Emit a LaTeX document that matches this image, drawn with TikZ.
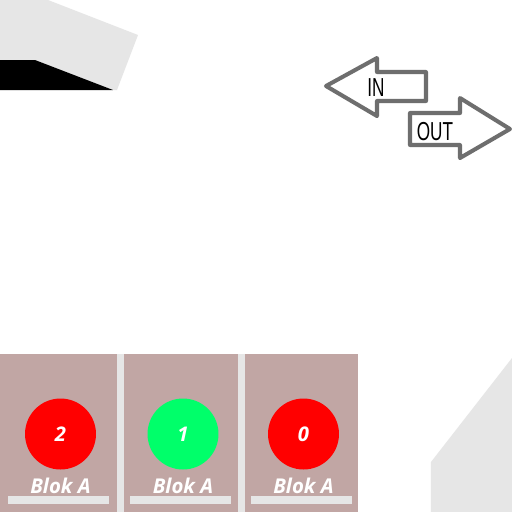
\documentclass[tikz,border=0pt]{standalone}
\usepackage{fontspec}
\setsansfont{Liberation Sans}
\newfontfamily\blokfont{Open Sans}
\usetikzlibrary{positioning,calc}
\definecolor{panel}{RGB}{193,166,164}
\definecolor{paleshade}{RGB}{230,230,230}
\definecolor{lampgreen}{RGB}{0,255,106}
\definecolor{lampred}{RGB}{255,0,0}
\definecolor{arrowgray}{RGB}{110,110,110}
\newcommand \myblok[4]
{
\fill[panel] (#1,354) rectangle (#2,512);
\node[lamp,fill=#4] (lamp#3) at ($(#1,434)!0.5!(#2,434)+(2,0)$) {#3};
\node[bloktext] (blok#3) at ($(#1,486)!0.5!(#2,486)+(2,0)$) {Blok A};
\fill[paleshade] ($(#1,496)!0.5!(#2,496)+(-50.5,0)$) rectangle ++(101,8);
}
\begin{document}
\begin{tikzpicture}[x=0.02cm, y=-0.02cm, line join=round,
  lamp/.style={circle, minimum size=1.42cm, inner sep=0pt, text=white,
    font=\blokfont\bfseries\itshape\fontsize{11.5}{12}\selectfont},
  bloktext/.style={inner sep=0pt, text=white,
    font=\blokfont\bfseries\itshape\fontsize{11.6}{12}\selectfont},
  arrowline/.style={draw=arrowgray, line width=2.3pt, fill=white},
  arrowtext/.style={inner sep=0pt, font=\sffamily\fontsize{14.8}{15}\selectfont}]
\useasboundingbox (0,0) rectangle (512,512);
\fill[white] (0,0) rectangle (512,512);
% corner pieces
\fill[paleshade] (0,0)--(48,0)--(138,35)--(117,90)--(113,90)--(35,60)--(0,60)--cycle;
\fill[black] (0,60)--(35,60)--(113,90)--(0,90)--cycle;
\fill[paleshade] (431,512)--(431,462)--(512,358)--(512,512)--cycle;
% in / out arrows
\draw[arrowline] (326,86)--(377,58)--(377,72)--(426,72)--(426,101)--(377,101)--(377,116)--cycle;
\draw[arrowline] (410,113)--(460,113)--(460,98)--(510,129)--(460,158)--(460,145)--(410,145)--cycle;
\node[arrowtext] (in) at (376,88) {\scalebox{0.66}[1]{IN}};
\node[arrowtext] (out) at (435,132) {\scalebox{0.66}[1]{OUT}};
% blocks
\fill[paleshade] (0,354) rectangle (358,512);
\myblok{0}{117}{2}{lampred}
\myblok{124}{238}{1}{lampgreen}
\myblok{245}{358}{0}{lampred}
\end{tikzpicture}
\end{document}
